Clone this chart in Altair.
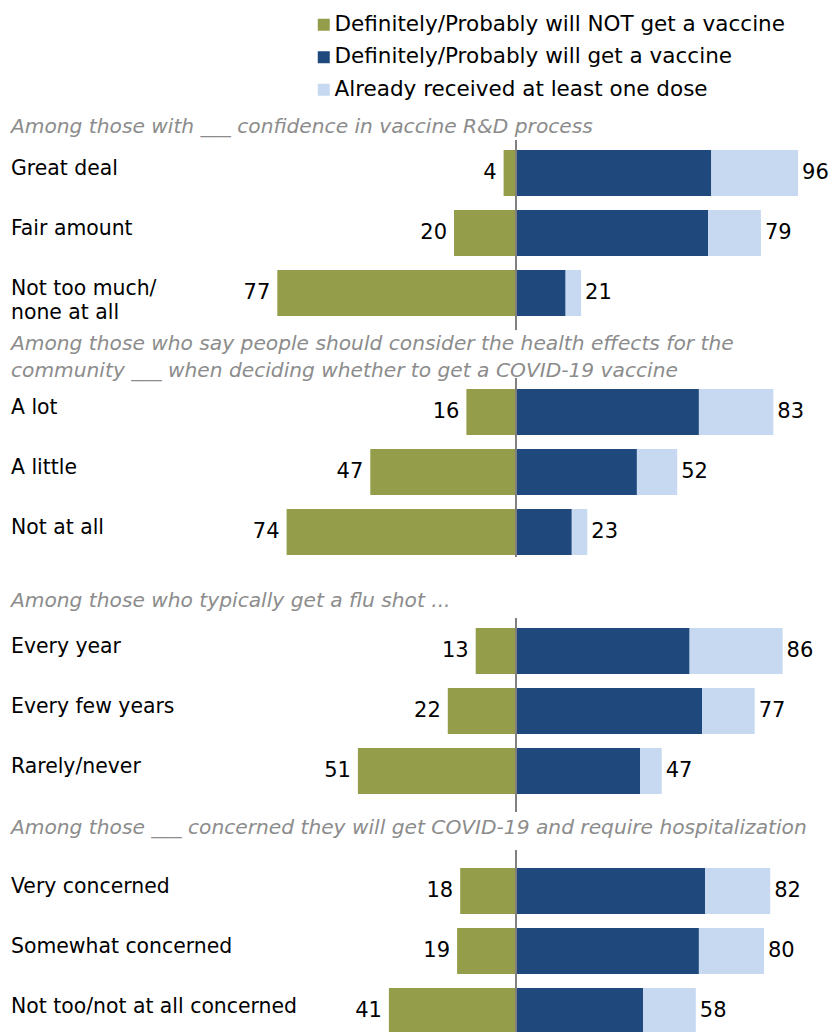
import altair as alt
import pandas as pd

FONT = "DejaVu Sans"

categories = [
    "Definitely/Probably will NOT get a vaccine",
    "Definitely/Probably will get a vaccine",
    "Already received at least one dose",
]
colors = ["#949D4A", "#1F497D", "#C6D9F0"]

section_titles = [
    ["Among those with ___ confidence in vaccine R&D process"],
    ["Among those who say people should consider the health effects for the",
     "community ___ when deciding whether to get a COVID-19 vaccine"],
    ["Among those who typically get a flu shot ..."],
    ["Among those ___ concerned they will get COVID-19 and require hospitalization"],
]
row_labels = [
    ["Great deal", "Fair amount", "Not too much/|none at all"],
    ["A lot", "A little", "Not at all"],
    ["Every year", "Every few years", "Rarely/never"],
    ["Very concerned", "Somewhat concerned", "Not too/not at all concerned"],
]
not_get = [[4, 20, 77], [16, 47, 74], [13, 22, 51], [18, 19, 41]]
will_get = [[63, 62, 16], [59, 39, 18], [56, 60, 40], [61, 59, 41]]
already = [[28, 17, 5], [24, 13, 5], [30, 17, 7], [21, 21, 17]]
totals = [[96, 79, 21], [83, 52, 23], [86, 77, 47], [82, 80, 58]]

W = 824
CENTER = 508
PPU = 3.1
STEP = 60
BAND = 46
xsc = alt.Scale(domain=[-CENTER / PPU, (W - CENTER) / PPU], nice=False, zero=False)
csc = alt.Scale(domain=categories, range=colors)

# per-panel layout: plot height, space above first bar, centre-line length, title offset
layout = [
    (193, 10, 190, 2),
    (212, 11, 179, -4),
    (199, 10, 194, 6),
    (190, 18, 190, 11),
]


def panel(i):
    rows = row_labels[i]
    recs = []
    lab = []
    for j, r in enumerate(rows):
        recs.append({"row": r, "cat": categories[0], "value": -not_get[i][j], "ord": 0})
        recs.append({"row": r, "cat": categories[1], "value": will_get[i][j], "ord": 1})
        recs.append({"row": r, "cat": categories[2], "value": already[i][j], "ord": 2})
        lab.append({"row": r, "neg": -not_get[i][j], "negtxt": str(not_get[i][j]),
                    "pos": will_get[i][j] + already[i][j], "postxt": str(totals[i][j]),
                    "zero": 0})
    d = pd.DataFrame(recs)
    ld = pd.DataFrame(lab)
    h, top, rlen, toff = layout[i]
    n = len(rows)
    pi = (STEP - BAND) / STEP
    used = (n - 1) * STEP + BAND
    po = (h - used) / 2 / STEP
    al = top / (h - used)
    y = alt.Y("row:N", sort=rows, axis=None,
              scale=alt.Scale(domain=rows, paddingInner=pi, paddingOuter=po, align=al))
    bars = alt.Chart(d).mark_bar().encode(
        x=alt.X("value:Q", scale=xsc, axis=None, stack="zero"),
        y=y,
        color=alt.Color("cat:N", scale=csc),
        order=alt.Order("ord:Q"),
    )
    rule = alt.Chart(ld).mark_rule(color="#808080", strokeWidth=2).encode(
        x=alt.X("zero:Q", scale=xsc, axis=None), y=alt.value(0), y2=alt.value(rlen)
    )
    names = alt.Chart(ld).transform_calculate(lines="split(datum.row, '|')").mark_text(
        align="left", baseline="middle", font=FONT, fontSize=20.4, lineHeight=24,
        color="#000000", dy=-4
    ).encode(x=alt.value(3), y=y, text="lines:N")
    negl = alt.Chart(ld).mark_text(
        align="right", baseline="middle", font=FONT, fontSize=21, dx=-7, color="#000000"
    ).encode(x=alt.X("neg:Q", scale=xsc, axis=None), y=y, text="negtxt:N")
    posl = alt.Chart(ld).mark_text(
        align="left", baseline="middle", font=FONT, fontSize=21, dx=4, color="#000000"
    ).encode(x=alt.X("pos:Q", scale=xsc, axis=None), y=y, text="postxt:N")
    return alt.layer(bars, rule, names, negl, posl).properties(
        width=W, height=h,
        title=alt.TitleParams(
            text=section_titles[i], anchor="start", font=FONT, fontSize=20.2,
            fontStyle="italic", fontWeight="normal", color="#8C8C8C", offset=toff, dx=3,
            lineHeight=27,
        ),
    )


leg_df = pd.DataFrame({"cat": categories})
legend_panel = alt.Chart(leg_df).mark_square(opacity=0).encode(
    color=alt.Color(
        "cat:N", scale=csc,
        legend=alt.Legend(
            orient="none", legendX=305, legendY=6, title=None, symbolType="square",
            symbolSize=144, symbolOpacity=1, symbolStrokeWidth=0, labelFontSize=21.5,
            labelFont=FONT, labelColor="#000000", rowPadding=9.5, padding=0,
            labelOffset=0, labelLimit=700,
        ),
    )
).properties(width=W, height=108)

chart = alt.vconcat(legend_panel, *[panel(i) for i in range(4)]).properties(
    padding=0
).configure_concat(spacing=0).configure_view(strokeWidth=0)

chart.save("out.html", embed_options={"renderer": "svg", "actions": False})
